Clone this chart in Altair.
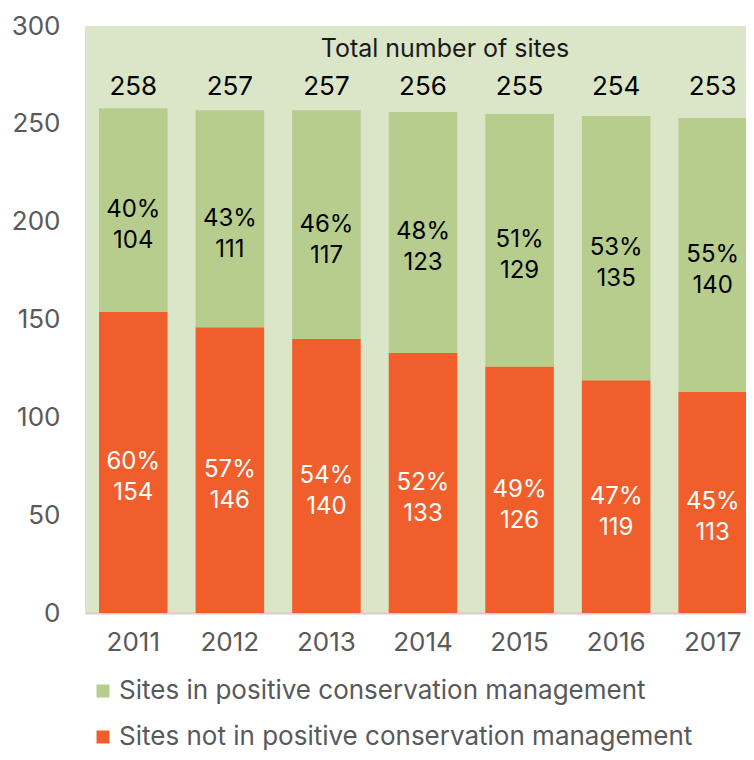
import altair as alt
import pandas as pd

years = ["2011", "2012", "2013", "2014", "2015", "2016", "2017"]
positive = [104, 111, 117, 123, 129, 135, 140]
not_positive = [154, 146, 140, 133, 126, 119, 113]
positive_pct = ["40%", "43%", "46%", "48%", "51%", "53%", "55%"]
not_positive_pct = ["60%", "57%", "54%", "52%", "49%", "47%", "45%"]
totals = [258, 257, 257, 256, 255, 254, 253]

S_POS = "Sites in positive conservation management"
S_NOT = "Sites not in positive conservation management"
GREEN = "#b7cd8d"
ORANGE = "#f05e2c"
BG = "#dbe5c7"
FONT = "Inter"

rows = []
for i, y in enumerate(years):
    rows.append({"year": y, "series": S_NOT, "value": not_positive[i], "ord": 0,
                 "mid": not_positive[i] / 2,
                 "label": f"{not_positive_pct[i]}\n{not_positive[i]}", "tc": "white"})
    rows.append({"year": y, "series": S_POS, "value": positive[i], "ord": 1,
                 "mid": not_positive[i] + positive[i] / 2,
                 "label": f"{positive_pct[i]}\n{positive[i]}", "tc": "black"})
df = pd.DataFrame(rows)
tot_df = pd.DataFrame({"year": years, "total": totals})
title_df = pd.DataFrame({"t": ["Total number of sites"]})

xscale = alt.Scale(domain=years, range=[0, 676], paddingInner=0.29, paddingOuter=0.145)
yscale = alt.Scale(domain=[0, 300])

bars = alt.Chart(df).mark_bar().encode(
    x=alt.X("year:N", scale=xscale, sort=years,
            axis=alt.Axis(title=None, labelAngle=0, labelFontSize=26, labelColor="#595959",
                          labelFont=FONT, labelPadding=16, ticks=False,
                          domainColor="#d0d0d0", domainWidth=2)),
    y=alt.Y("value:Q", scale=yscale, stack="zero",
            axis=alt.Axis(title=None, values=[0, 50, 100, 150, 200, 250, 300], grid=False,
                          ticks=False, domain=False, labelFontSize=26, labelColor="#595959",
                          labelFont=FONT, labelPadding=25)),
    color=alt.Color("series:N", scale=alt.Scale(domain=[S_POS, S_NOT], range=[GREEN, ORANGE]),
                    legend=alt.Legend(title=None, orient="none", legendX=5, legendY=652,
                                      direction="vertical", symbolType="square", symbolSize=169,
                                      symbolStrokeWidth=0, labelFontSize=26, labelColor="#595959",
                                      labelFont=FONT, rowPadding=20, labelOffset=3,
                                      labelLimit=800)),
    order=alt.Order("ord:Q"),
)

labels = alt.Chart(df).mark_text(lineBreak="\n", fontSize=24, font=FONT, lineHeight=31,
                                 baseline="middle").encode(
    x=alt.X("year:N", scale=xscale, sort=years),
    y=alt.Y("mid:Q", scale=yscale),
    text="label:N",
    color=alt.Color("tc:N", scale=None, legend=None),
)

tot_text = alt.Chart(tot_df).mark_text(fontSize=26, font=FONT, color="black",
                                       baseline="middle").encode(
    x=alt.X("year:N", scale=xscale, sort=years),
    y=alt.datum(269),
    text="total:Q",
)

title_text = alt.Chart(title_df).mark_text(fontSize=25, font=FONT, color="#1a1a1a",
                                           baseline="middle").encode(
    x=alt.value(360),
    y=alt.datum(288.5),
    text="t:N",
)

chart = alt.layer(bars, labels, tot_text, title_text).properties(
    width=661, height=587,
    autosize=alt.AutoSizeParams(type="none"),
    padding={"left": 77, "top": 18, "right": 0, "bottom": 139},
).configure_view(fill=BG, stroke=None)

chart.save("out.html", embed_options={"renderer": "svg", "actions": False})
